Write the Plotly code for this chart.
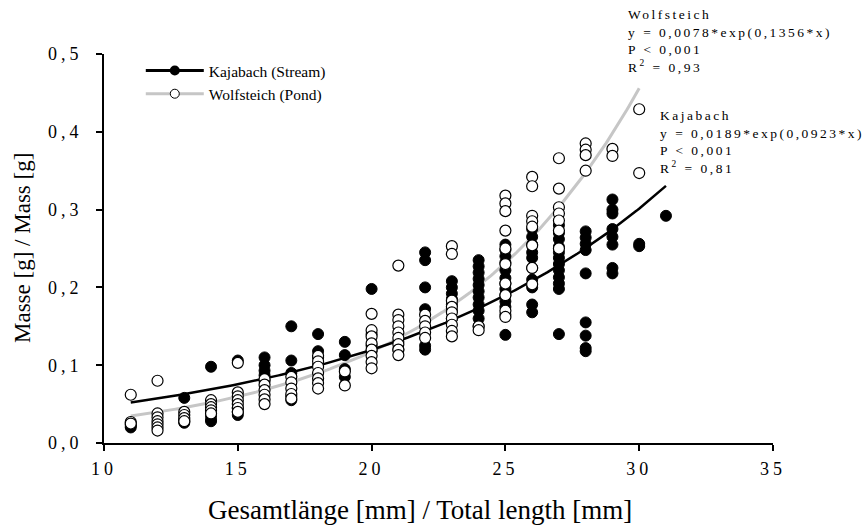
import numpy as np
import plotly.graph_objects as go

# Kajabach (stream): total length [mm] and mass [g] per individual
kaja_len = (
    [11] * 3 + [13] * 4 + [14] * 5 + [15] * 4 + [16] * 5 + [17] * 5 + [18] * 4 +
    [19] * 4 + [20] * 4 + [21] * 2 + [22] * 6 + [23] * 7 + [24] * 11 + [25] * 13 +
    [26] * 10 + [27] * 12 + [28] * 9 + [29] * 8 + [30] * 2 + [31] * 1
)
kaja_mass = [
    0.020, 0.022, 0.024,
    0.058, 0.030, 0.026, 0.028,
    0.098, 0.040, 0.035, 0.030, 0.028,
    0.106, 0.045, 0.040, 0.036,
    0.110, 0.100, 0.093, 0.087, 0.080,
    0.150, 0.106, 0.090, 0.060, 0.055,
    0.140, 0.118, 0.110, 0.100,
    0.130, 0.113, 0.095, 0.085,
    0.198, 0.140, 0.125, 0.118,
    0.130, 0.120,
    0.245, 0.235, 0.200, 0.172, 0.125, 0.120,
    0.208, 0.200, 0.192, 0.185, 0.178, 0.170, 0.160,
    0.235, 0.227, 0.219, 0.211, 0.203, 0.195, 0.187, 0.178, 0.170, 0.160, 0.150,
    0.255, 0.248, 0.240, 0.232, 0.222, 0.212, 0.205, 0.198, 0.190, 0.182, 0.175, 0.165, 0.139,
    0.275, 0.265, 0.255, 0.245, 0.238, 0.225, 0.210, 0.200, 0.178, 0.168,
    0.280, 0.270, 0.262, 0.252, 0.245, 0.238, 0.230, 0.222, 0.213, 0.205, 0.198, 0.140,
    0.272, 0.264, 0.256, 0.248, 0.218, 0.155, 0.138, 0.122, 0.118,
    0.313, 0.300, 0.295, 0.275, 0.265, 0.255, 0.225, 0.218,
    0.256, 0.253,
    0.292,
]

# Wolfsteich (pond): total length [mm] and mass [g] per individual
wolf_len = (
    [11] * 3 + [12] * 7 + [13] * 4 + [14] * 5 + [15] * 7 + [16] * 6 + [17] * 5 +
    [18] * 7 + [19] * 2 + [20] * 8 + [21] * 9 + [22] * 5 + [23] * 9 + [24] * 2 +
    [25] * 10 + [26] * 8 + [27] * 7 + [28] * 4 + [29] * 2 + [30] * 2
)
wolf_mass = [
    0.062, 0.027, 0.025,
    0.080, 0.038, 0.033, 0.028, 0.024, 0.020, 0.016,
    0.040, 0.036, 0.032, 0.028,
    0.055, 0.050, 0.046, 0.042, 0.038,
    0.103, 0.065, 0.060, 0.055, 0.050, 0.045, 0.040,
    0.082, 0.075, 0.068, 0.062, 0.056, 0.050,
    0.085, 0.078, 0.070, 0.063, 0.057,
    0.112, 0.105, 0.098, 0.090, 0.083, 0.077, 0.070,
    0.092, 0.074,
    0.166, 0.145, 0.137, 0.128, 0.120, 0.112, 0.104, 0.096,
    0.228, 0.165, 0.158, 0.150, 0.142, 0.135, 0.127, 0.120, 0.113,
    0.165, 0.157, 0.150, 0.142, 0.135,
    0.253, 0.243, 0.183, 0.175, 0.168, 0.160, 0.152, 0.144, 0.137,
    0.150, 0.145,
    0.318, 0.308, 0.298, 0.273, 0.250, 0.230, 0.205, 0.190, 0.170, 0.162,
    0.342, 0.330, 0.292, 0.285, 0.278, 0.254, 0.225, 0.204,
    0.366, 0.327, 0.303, 0.295, 0.286, 0.273, 0.250,
    0.385, 0.377, 0.370, 0.350,
    0.378, 0.369,
    0.429, 0.347,
]

# exponential fits y = a * exp(b * x), as printed in the annotations
kaja_a, kaja_b = 0.0189, 0.0923
wolf_a, wolf_b = 0.0078, 0.1356
kaja_fit_range = (11, 31)
wolf_fit_range = (11, 30)

x_ticks = [10, 15, 20, 25, 30, 35]
x_tick_text = ["10", "15", "20", "25", "30", "35"]
y_ticks = [0.0, 0.1, 0.2, 0.3, 0.4, 0.5]
y_tick_text = ["0,0", "0,1", "0,2", "0,3", "0,4", "0,5"]

x_title = "Gesamtlänge [mm] / Total length [mm]"
y_title = "Masse [g] / Mass [g]"

SERIF = "Liberation Serif, Times New Roman, serif"
GREY = "#c6c6c6"

fig = go.Figure()

xk = np.linspace(*kaja_fit_range, 200)
xw = np.linspace(*wolf_fit_range, 200)
fig.add_trace(go.Scatter(x=xw, y=wolf_a * np.exp(wolf_b * xw), mode="lines",
                         line=dict(color=GREY, width=3), showlegend=False, hoverinfo="skip"))
fig.add_trace(go.Scatter(x=xk, y=kaja_a * np.exp(kaja_b * xk), mode="lines",
                         line=dict(color="black", width=2.5), showlegend=False, hoverinfo="skip"))

fig.add_trace(go.Scatter(x=kaja_len, y=kaja_mass, mode="markers", showlegend=False,
                         marker=dict(symbol="circle", size=11, color="black",
                                     line=dict(color="black", width=1))))
fig.add_trace(go.Scatter(x=wolf_len, y=wolf_mass, mode="markers", showlegend=False,
                         marker=dict(symbol="circle", size=11, color="white",
                                     line=dict(color="black", width=1.2))))

# legend entries combining line and marker symbols
fig.add_trace(go.Scatter(x=[None], y=[None], mode="lines+markers", name="Kajabach (Stream)",
                         line=dict(color="black", width=3),
                         marker=dict(size=10, color="black")))
fig.add_trace(go.Scatter(x=[None], y=[None], mode="lines+markers", name="Wolfsteich (Pond)",
                         line=dict(color=GREY, width=3),
                         marker=dict(size=9, color="white", line=dict(color="black", width=1))))

wolf_note = ("Wolfsteich<br>y = 0,0078*exp(0,1356*x)<br>P < 0,001<br>R<sup>2</sup> = 0,93")
kaja_note = ("Kajabach<br>y = 0,0189*exp(0,0923*x)<br>P < 0,001<br>R<sup>2</sup> = 0,81")

PLOT_L, PLOT_R, PLOT_T, PLOT_B = 104, 93, 54, 84
W, H = 866, 527
pw, ph = W - PLOT_L - PLOT_R, H - PLOT_T - PLOT_B


def px_to_paper(px, py):
    return (px - PLOT_L) / pw, (H - PLOT_B - py) / ph


for note, (px, py) in ((wolf_note, (626, 5)), (kaja_note, (658, 106))):
    ax, ay = px_to_paper(px, py)
    fig.add_annotation(text=note, xref="paper", yref="paper", x=ax, y=ay,
                       xanchor="left", yanchor="top", align="left", showarrow=False,
                       font=dict(family=SERIF, size=13.5, color="black"))

# axis titles, placed as free text
tx, ty = px_to_paper(420, 510)
fig.add_annotation(text=x_title, xref="paper", yref="paper", x=tx, y=ty,
                   xanchor="center", yanchor="middle", showarrow=False,
                   font=dict(family=SERIF, size=27, color="black"))
tx, ty = px_to_paper(22, 248)
fig.add_annotation(text=y_title, xref="paper", yref="paper", x=tx, y=ty, textangle=-90,
                   xanchor="center", yanchor="middle", showarrow=False,
                   font=dict(family=SERIF, size=23, color="black"))

axis_common = dict(showline=True, linecolor="black", linewidth=1.8, ticks="outside",
                   ticklen=6, tickwidth=1.8, tickcolor="black", showgrid=False,
                   zeroline=False, mirror=False,
                   tickfont=dict(family=SERIF, size=18, color="black"))

fig.update_layout(
    width=W, height=H,
    margin=dict(l=PLOT_L, r=PLOT_R, t=PLOT_T, b=PLOT_B),
    paper_bgcolor="white", plot_bgcolor="white",
    xaxis=dict(range=[10, 35], tickvals=x_ticks, ticktext=x_tick_text,
               ticklabelstandoff=2, **axis_common),
    yaxis=dict(range=[0, 0.5], tickvals=y_ticks, ticktext=y_tick_text,
               ticklabelstandoff=10, **axis_common),
    legend=dict(x=0.055, y=1.0, xanchor="left", yanchor="top", bgcolor="rgba(0,0,0,0)",
                font=dict(family=SERIF, size=15.5, color="black"), itemwidth=58,
                tracegroupgap=2),
    showlegend=True,
)

# widen the letter spacing of tick labels and the fit annotations
spacing_js = """
var gd = document.getElementById('{plot_id}');
function spread() {
  gd.querySelectorAll('.xtick text, .ytick text').forEach(function (t) {
    t.style.letterSpacing = '4px';
  });
  gd.querySelectorAll('.annotation-text').forEach(function (t) {
    if (t.textContent.indexOf('exp') >= 0) { t.style.letterSpacing = '2.5px'; }
  });
}
spread();
gd.on('plotly_afterplot', spread);
"""

fig.write_html("out.html", post_script=spacing_js)
